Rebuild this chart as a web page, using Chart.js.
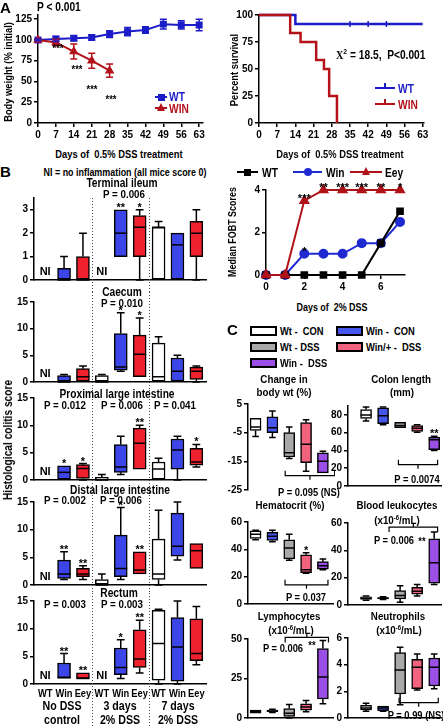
<!DOCTYPE html>
<html>
<head>
<meta charset="utf-8">
<title>Win / Eey DSS colitis</title>
<script src="https://cdn.jsdelivr.net/npm/chart.js@4.4.1/dist/chart.umd.min.js"></script>
<style>
  html, body { margin: 0; padding: 0; background: #fff; }
  body { position: relative; width: 443px; height: 726px; overflow: hidden;
         font-family: "Liberation Sans", Arial, sans-serif; font-weight: bold; color: #000; }
  canvas { position: absolute; }
  .t { position: absolute; white-space: nowrap; line-height: 1; }
  .mk { position: absolute; }
</style>
</head>
<body>
<script>
// ---------- Panel A: body weight (mean +/- SEM) ----------
const weightDays = [0, 7, 14, 21, 28, 35, 42, 49, 56, 63];
const wtWeight = [100, 101, 102, 103, 107, 110, 112, 119, 118, 118];
const wtWeightErr = [1, 3, 3, 3, 4, 5, 4, 6, 5, 7];
const winWeightDays = [0, 7, 14, 21, 28];
const winWeight = [100, 97, 86, 75, 63];
const winWeightErr = [1, 4, 9, 9, 8];
const dayTicks = [0, 7, 14, 21, 28, 35, 42, 49, 56, 63];
const weightTicks = [0, 25, 50, 75, 100, 125];

// ---------- Panel A: survival ----------
const wtSurvDays = [0, 14, 63];
const wtSurv = [100, 91.7, 91.7];
const wtCensorDays = [35, 42, 49];
const winSurvDays = [0, 12, 16, 22, 25, 27, 30];
const winSurv = [100, 83.3, 75, 58.3, 50, 25, 0];
const survivalTicks = [0, 25, 50, 75, 100];

// ---------- Panel B: FOBT medians ----------
const fobtDays = [0, 1, 2, 3, 4, 5, 6, 7];
const fobtWt = [0, 0, 0, 0, 0, 0, 1.5, 3];
const fobtWin = [0, 0, 1, 1, 1, 1.5, 1.5, 2.5];
const fobtEey = [0, 0, 3.5, 4, 4, 4, 4, 4];
const fobtWinStars = ['', '', '*', '', '', '', '', ''];
const fobtEeyStars = ['', '', '***', '**', '***', '***', '**', '*'];
const fobtXTicks = [0, 2, 4, 6];
const fobtYTicks = [0, 2, 4];

// ---------- Panel B: histology, [min, q1, median, q3, max], null = NI ----------
const bLabels = ['WT', 'Win', 'Eey', 'WT', 'Win', 'Eey', 'WT', 'Win', 'Eey'];
const ileumBoxes = [null, [0, 0, 0, 0.5, 1], [0, 0, 0, 1, 2], null, [1, 1, 2, 3, 3],
  [0, 1, 2.25, 2.75, 3], [0, 0, 2.25, 2.25, 2.5], [0, 0, 1.5, 2, 2], [0, 1, 2, 2.5, 3]];
const ileumStars = ['', '', '', '', '**', '*', '', '', ''];
const caecumBoxes = [null, [0, 0, 0, 1.2, 1.4], [0, 0, 1, 2.5, 3], [0, 0, 0, 1.2, 1.4],
  [2, 2.2, 2.8, 9.1, 13], [1, 1, 5.2, 8.8, 12], [0, 0, 1, 7.3, 8.5], [0, 0, 2, 4.5, 5], [0, 0.5, 2, 2.8, 3]];
const caecumStars = ['', '', '', '', '*', '*', '', '', ''];
const proximalBoxes = [null, [0, 0, 1.4, 2.6, 2.6], [0, 0.3, 2.1, 2.8, 3], [0, 0, 0, 0.5, 1],
  [1, 1.4, 2.4, 6.5, 8], [2, 2, 6.7, 9.5, 10], [0, 0, 2, 3.3, 4], [0, 2, 5.5, 7.5, 8], [2.4, 2.7, 3.3, 5.8, 6.5]];
const proximalStars = ['', '*', '*', '', '', '**', '', '', '*'];
const distalBoxes = [null, [1, 1.2, 2, 4.5, 6], [1, 1.5, 2, 3, 3.5], [0, 0, 0, 1, 2],
  [1, 1.5, 3, 9, 14], [2, 2, 2.7, 6, 6], [0, 1, 2, 8.3, 13.5], [4.5, 5.2, 7, 13, 15], [3, 3, 6.2, 7.5, 7.5]];
const distalStars = ['', '**', '**', '', '*', '**', '', '', ''];
const rectumBoxes = [null, [1, 1, 1.2, 3.8, 5.5], [1, 1, 1, 2, 2], null,
  [1, 1.7, 3, 6.5, 8], [2, 3, 4.5, 9.8, 11.5], [0, 0.7, 7.3, 13.3, 13.5], [0, 0.5, 6.7, 12, 15], [3.5, 4.2, 5.5, 11.8, 14]];
const rectumStars = ['', '**', '**', '', '*', '**', '', '', ''];
const ileumTicks = [0, 1, 2, 3];
const colitisTicks = [0, 5, 10, 15];

// ---------- Panel C: [min, q1, median, q3, max] ----------
const cGroups = ['Wt - CON', 'Win - CON', 'Wt - DSS', 'Win/+ - DSS', 'Win - DSS'];
const bodyWtBoxes = [[-6.3, -4.2, -3, 0, 0], [-6.7, -5, -3.3, 0.5, 2.6], [-14, -13.5, -12, -5, -3],
  [-18.5, -15.5, -9, -1.5, -0.5], [-19, -19, -15, -12, -11.5]];
const colonBoxes = [[73, 76, 80, 86, 89], [69, 70, 79, 88, 89], [65, 65.5, 68, 71.5, 72],
  [60.5, 61.5, 65, 68, 69], [40, 41, 52, 55, 56]];
const hematocritBoxes = [[47, 48, 51, 53.5, 54], [45.5, 46.5, 49.5, 52.5, 54], [32, 33, 41, 47, 51],
  [22.5, 23, 25, 36, 37.5], [25, 25.5, 28, 31, 33]];
const leukocyteBoxes = [[3.5, 4, 5, 6, 6.5], [4, 4.5, 5, 5.5, 6], [2, 4.5, 7, 10.5, 14],
  [6.5, 8, 10, 13, 15], [15, 16, 31, 48.5, 53.5]];
const lymphocyteBoxes = [[3, 3, 4, 5, 5], [3.5, 4, 4.5, 5, 5.5], [0, 1, 3, 6, 8.5],
  [4, 5, 7, 9, 11], [9, 12, 26, 44, 49]];
const neutrophilBoxes = [[0.5, 0.6, 0.75, 0.95, 1.1], [0.5, 0.55, 0.75, 0.9, 0.9], [1, 1.8, 3.6, 4.9, 5.3],
  [2.1, 2.2, 3.8, 4.4, 4.8], [2.2, 2.4, 3.8, 4.5, 4.8]];
const colonStars = ['', '', '', '', '**'];
const hematocritStars = ['', '', '', '*', ''];
const bodyWtTicks = [-25, -15, -5, 5];
const colonTicks = [0, 20, 40, 60, 80];
const hematocritTicks = [0, 20, 40, 60];
const leukocyteTicks = [0, 20, 40, 60];
const lymphocyteTicks = [0, 25, 50];
const neutrophilTicks = [0, 2, 4, 6];

// ---------- colours ----------
const BLUE_A = '#1c1cc8', RED_A = '#b3121b';
const BLUE_F = '#1f2ad0', RED_F = '#b01218';
const bColors = ['#ffffff', '#3c46e8', '#f0212e', '#ffffff', '#3c46e8', '#f0212e', '#ffffff', '#3c46e8', '#f0212e'];
const cColors = ['#ffffff', '#4656ee', '#a9a9a9', '#f2637f', '#9c4fe6'];

const FONT = '"Liberation Sans", Arial, sans-serif';
Chart.defaults.font.family = FONT;
Chart.defaults.font.weight = 'bold';
Chart.defaults.font.size = 10;
Chart.defaults.color = '#000';
Chart.defaults.animation = false;
Chart.defaults.responsive = false;
Chart.defaults.plugins.legend.display = false;
Chart.defaults.plugins.tooltip.enabled = false;

// ---------- helpers ----------
const SQUEEZE = 0.85;
function label(html, x, y, size, align, style) {
  const d = document.createElement('div');
  d.className = 't';
  d.innerHTML = html;
  d.style.left = x + 'px';
  d.style.top = y + 'px';
  d.style.fontSize = size + 'px';
  if (align === 'left') {
    d.style.transformOrigin = '0 50%';
    d.style.transform = 'translate(0, -50%) scaleX(' + SQUEEZE + ')';
  } else if (align === 'rot') {
    d.style.transform = 'translate(-50%, -50%) rotate(-90deg) scaleX(' + SQUEEZE + ')';
  } else {
    d.style.transform = 'translate(-50%, -50%) scaleX(' + SQUEEZE + ')';
  }
  if (style) Object.assign(d.style, style);
  document.body.appendChild(d);
}

function addDiv(style) {
  const d = document.createElement('div');
  d.className = 'mk';
  Object.assign(d.style, style);
  document.body.appendChild(d);
}

function legendLine(x1, x2, y, color, marker) {
  addDiv({ left: x1 + 'px', top: (y - 1) + 'px', width: (x2 - x1) + 'px', height: '2px', background: color });
  const cx = (x1 + x2) / 2;
  if (marker === 'rect') addDiv({ left: (cx - 3.5) + 'px', top: (y - 3.5) + 'px', width: '7px', height: '7px', background: color });
  if (marker === 'circle') addDiv({ left: (cx - 4) + 'px', top: (y - 4) + 'px', width: '8px', height: '8px', borderRadius: '50%', background: color });
  if (marker === 'triangle') addDiv({ left: (cx - 4) + 'px', top: (y - 5) + 'px', width: 0, height: 0,
    borderLeft: '4px solid transparent', borderRight: '4px solid transparent', borderBottom: '8px solid ' + color });
  if (marker === 'tick') addDiv({ left: (cx - 0.75) + 'px', top: (y - 5) + 'px', width: '1.5px', height: '5px', background: color });
}

function legendBox(x, y, fill, text) {
  addDiv({ left: x + 'px', top: (y - 5) + 'px', width: '23px', height: '6px', border: '2px solid #000', background: fill });
  label(text, x + 30, y, 11, 'left');
}

function place(cv) {
  const c = document.createElement('canvas');
  c.width = cv.w;
  c.height = cv.h;
  c.style.left = cv.left + 'px';
  c.style.top = cv.top + 'px';
  document.body.appendChild(c);
  return c;
}

function layoutFor(cv, area, xh) {
  return { padding: { left: 0, top: area.t - cv.top, right: cv.left + cv.w - area.r, bottom: cv.top + cv.h - area.b - xh } };
}

function yAxis(cv, area, ticks, min, max, grid) {
  return {
    min: min, max: max,
    afterFit: s => { s.width = area.l - cv.left; },
    afterBuildTicks: s => { s.ticks = ticks.map(v => ({ value: v })); },
    ticks: { autoSkip: false, padding: 2 },
    grid: grid || { drawOnChartArea: false, color: '#000', lineWidth: 1.5, tickLength: 4 },
    border: { color: '#000', width: 1.5 }
  };
}

function xAxis(ticks, min, max, xh) {
  return {
    type: 'linear', offset: false, min: min, max: max,
    afterFit: s => { s.height = xh; },
    afterBuildTicks: s => { s.ticks = ticks.map(v => ({ value: v })); },
    ticks: { autoSkip: false, maxRotation: 0, padding: 2 },
    grid: { drawOnChartArea: false, color: '#000', lineWidth: 1.5, tickLength: 4 },
    border: { color: '#000', width: 1.5 }
  };
}

function pts(xs, ys) {
  return xs.map((x, i) => ({ x: x, y: ys[i] }));
}

// error bars from dataset.err
const errorBarPlugin = {
  id: 'errorBars',
  afterDatasetsDraw(chart) {
    const ctx = chart.ctx, y = chart.scales.y;
    chart.data.datasets.forEach((ds, di) => {
      if (!ds.err) return;
      const meta = chart.getDatasetMeta(di);
      ctx.save();
      ctx.strokeStyle = ds.borderColor;
      ctx.lineWidth = 1.5;
      meta.data.forEach((pt, i) => {
        const v = ds.data[i].y, e = ds.err[i];
        const top = y.getPixelForValue(v + e), bot = y.getPixelForValue(v - e);
        ctx.beginPath();
        ctx.moveTo(pt.x, top); ctx.lineTo(pt.x, bot);
        ctx.moveTo(pt.x - 3.5, top); ctx.lineTo(pt.x + 3.5, top);
        ctx.moveTo(pt.x - 3.5, bot); ctx.lineTo(pt.x + 3.5, bot);
        ctx.stroke();
      });
      ctx.restore();
    });
  }
};

// significance stars above line points from dataset.stars
const pointStarPlugin = {
  id: 'pointStars',
  afterDatasetsDraw(chart) {
    const ctx = chart.ctx;
    chart.data.datasets.forEach((ds, di) => {
      if (!ds.stars) return;
      const meta = chart.getDatasetMeta(di);
      ctx.save();
      ctx.fillStyle = '#000';
      ctx.font = 'bold 11px ' + FONT;
      ctx.textAlign = 'center';
      ctx.textBaseline = 'alphabetic';
      meta.data.forEach((pt, i) => { if (ds.stars[i]) ctx.fillText(ds.stars[i], pt.x, pt.y + 1); });
      ctx.restore();
    });
  }
};

// whiskers, medians, stars, NI, group labels, separators, brackets for floating-bar boxes
const boxPlugin = {
  id: 'boxes',
  afterDatasetsDraw(chart) {
    const o = chart.data.datasets[0].box;
    const ctx = chart.ctx, x = chart.scales.x, y = chart.scales.y;
    const half = o.bar / 2, cap = o.bar * 0.3;
    ctx.save();
    ctx.strokeStyle = '#000';
    ctx.fillStyle = '#000';
    ctx.lineWidth = 1.5;
    o.stats.forEach((s, i) => {
      const cx = x.getPixelForValue(i);
      if (o.xLabels) {
        // condensed category labels under the axis
        ctx.save();
        ctx.font = 'bold 11px ' + FONT;
        ctx.textAlign = 'center';
        ctx.textBaseline = 'top';
        ctx.translate(cx, chart.chartArea.bottom + 4);
        ctx.scale(SQUEEZE, 1);
        ctx.fillText(o.xLabels[i], 0, 0);
        ctx.restore();
      }
      if (!s) {
        ctx.font = 'bold 11px ' + FONT;
        ctx.textAlign = 'center';
        ctx.textBaseline = 'middle';
        ctx.fillText('NI', cx, y.getPixelForValue(0) - 8);
        return;
      }
      const p = s.map(v => y.getPixelForValue(v));
      ctx.beginPath();
      if (p[4] < p[3] - 0.5) { ctx.moveTo(cx, p[3]); ctx.lineTo(cx, p[4]); ctx.moveTo(cx - cap, p[4]); ctx.lineTo(cx + cap, p[4]); }
      if (p[0] > p[1] + 0.5) { ctx.moveTo(cx, p[1]); ctx.lineTo(cx, p[0]); ctx.moveTo(cx - cap, p[0]); ctx.lineTo(cx + cap, p[0]); }
      ctx.moveTo(cx - half, p[2]); ctx.lineTo(cx + half, p[2]);
      ctx.stroke();
      if (o.stars && o.stars[i]) {
        ctx.font = 'bold 11px ' + FONT;
        ctx.textAlign = 'center';
        ctx.textBaseline = 'alphabetic';
        ctx.fillText(o.stars[i], cx, p[4] + 1);
      }
    });
    if (o.bracket) {
      const b = o.bracket, dir = b.up ? -1 : 1;
      const x1 = x.getPixelForValue(b.from), x2 = x.getPixelForValue(b.to), yy = y.getPixelForValue(b.at);
      const xm = (x1 + x2) / 2;
      ctx.lineWidth = 1.2;
      ctx.beginPath();
      ctx.moveTo(x1, yy + dir * 5); ctx.lineTo(x1, yy); ctx.lineTo(x2, yy); ctx.lineTo(x2, yy + dir * 5);
      ctx.moveTo(xm, yy); ctx.lineTo(xm, yy - dir * 4);
      ctx.stroke();
    }
    if (o.separators) {
      ctx.setLineDash([1, 2]);
      ctx.lineWidth = 1;
      ctx.strokeStyle = '#444';
      o.separators.forEach(v => {
        const px = Math.round(x.getPixelForValue(v)) + 0.5;
        ctx.beginPath();
        ctx.moveTo(px, o.sepFromArea ? chart.chartArea.top : 0);
        ctx.lineTo(px, chart.height);
        ctx.stroke();
      });
    }
    ctx.restore();
  }
};

function boxChart(cv, area, stats, colors, o) {
  return new Chart(place(cv), {
    type: 'bar',
    data: {
      datasets: [{
        data: stats.map((s, i) => ({ x: i, y: s ? [s[1], s[3]] : null })),
        backgroundColor: colors,
        borderColor: '#000',
        borderWidth: 1.5,
        borderSkipped: false,
        barThickness: o.bar,
        box: { stats: stats, stars: o.stars, bar: o.bar, bracket: o.bracket, xLabels: o.xLabels,
               separators: o.separators, sepFromArea: o.sepFromArea }
      }]
    },
    options: {
      layout: layoutFor(cv, area, 0),
      scales: {
        x: {
          type: 'linear', offset: false, min: o.xMin, max: o.xMax,
          afterFit: s => { s.height = 0; },
          ticks: { display: false },
          grid: { display: false },
          border: { display: o.xBorder !== false, color: '#000', width: 1.5 }
        },
        y: yAxis(cv, area, o.yTicks, o.yMin, o.yMax, o.yGrid)
      }
    },
    plugins: [boxPlugin]
  });
}

// ================= Panel A: body weight =================
const cvA = { left: 0, top: 0, w: 215, h: 146 };
const arA = { l: 38, t: 15, r: 203, b: 123 };
new Chart(place(cvA), {
  type: 'line',
  data: {
    datasets: [
      { data: pts(winWeightDays, winWeight), err: winWeightErr, borderColor: RED_A, backgroundColor: RED_A,
        borderWidth: 2, pointStyle: 'triangle', pointRadius: 3.5, clip: false },
      { data: pts(weightDays, wtWeight), err: wtWeightErr, borderColor: BLUE_A, backgroundColor: BLUE_A,
        borderWidth: 2, pointStyle: 'rect', pointRadius: 3.5, clip: false }
    ]
  },
  options: {
    layout: layoutFor(cvA, arA, 18),
    scales: { x: xAxis(dayTicks, 0, 64.5, 18), y: yAxis(cvA, arA, weightTicks, 0, 130) }
  },
  plugins: [errorBarPlugin]
});
label('A', 0, 7, 15, 'left', { transform: 'translate(0,-50%)' });
label('P &lt; 0.001', 37, 7, 12, 'left');
label('Body weight (% initial)', 8, 72, 11, 'rot');
label('Days of&nbsp; 0.5% DSS treatment', 119, 154, 11);
label('***', 58, 48, 11);
label('***', 77, 69, 11);
label('***', 92, 89, 11);
label('***', 111, 99, 11);
legendLine(155, 167, 97, BLUE_A, 'rect');
label('WT', 169, 97, 12, 'left', { color: BLUE_A });
legendLine(155, 167, 108, RED_A, 'triangle');
label('WIN', 169, 109, 12, 'left', { color: RED_A });

// ================= Panel A: survival =================
const cvS = { left: 228, top: 0, w: 215, h: 146 };
const arS = { l: 259, t: 15, r: 424, b: 123 };
new Chart(place(cvS), {
  type: 'line',
  data: {
    datasets: [
      { data: pts(winSurvDays, winSurv), stepped: 'before', borderColor: RED_A, borderWidth: 2.5, pointRadius: 0, clip: false },
      { data: pts(wtSurvDays, wtSurv), stepped: 'before', borderColor: BLUE_A, borderWidth: 2.5, pointRadius: 0, clip: false },
      { data: wtCensorDays.map(d => ({ x: d, y: wtSurv[wtSurv.length - 1] })), showLine: false, pointStyle: 'line',
        rotation: 90, pointRadius: 3, borderColor: BLUE_A, pointBorderWidth: 1.5, clip: false }
    ]
  },
  options: {
    layout: layoutFor(cvS, arS, 18),
    scales: { x: xAxis(dayTicks, 0, 63.5, 18), y: yAxis(cvS, arS, survivalTicks, 0, 100) }
  }
});
label('Percent survival', 234, 70, 11, 'rot');
label('<span style="font-family:\'Liberation Serif\',serif">X</span><span style="font-size:8px;vertical-align:5px">2</span> = 18.5,&nbsp; P&lt;0.001', 336, 54, 12, 'left');
legendLine(375, 395, 88, BLUE_A, 'tick');
label('WT', 398, 89, 12, 'left', { color: BLUE_A });
legendLine(375, 395, 104, RED_A, 'tick');
label('WIN', 398, 105, 12, 'left', { color: RED_A });
label('Days of&nbsp; 0.5% DSS treatment', 340, 154, 11);

// ================= Panel B: FOBT =================
const cvF = { left: 240, top: 182, w: 203, h: 116 };
const arF = { l: 266, t: 190, r: 405, b: 275 };
new Chart(place(cvF), {
  type: 'line',
  data: {
    datasets: [
      { data: pts(fobtDays, fobtEey), stars: fobtEeyStars, borderColor: RED_F, backgroundColor: RED_F, borderWidth: 2,
        pointStyle: 'triangle', pointRadius: 4.5, clip: false },
      { data: pts(fobtDays, fobtWt), borderColor: '#000', backgroundColor: '#000', borderWidth: 2,
        pointStyle: 'rect', pointRadius: 4, clip: false },
      { data: pts(fobtDays, fobtWin), stars: fobtWinStars, borderColor: BLUE_F, backgroundColor: BLUE_F, borderWidth: 2,
        pointStyle: 'circle', pointRadius: 4, clip: false }
    ]
  },
  options: {
    layout: layoutFor(cvF, arF, 18),
    scales: { x: xAxis(fobtXTicks, 0, 7.26, 18), y: yAxis(cvF, arF, fobtYTicks, 0, 4) }
  },
  plugins: [pointStarPlugin]
});
label('Median FOBT Scores', 232, 232, 10.5, 'rot');
label('Days of&nbsp; 2% DSS', 332, 307, 10.5);
legendLine(237, 258, 172, '#000', 'rect');
label('WT', 262, 173, 12, 'left');
legendLine(293, 322, 172, BLUE_F, 'circle');
label('Win', 326, 173, 12, 'left');
legendLine(350, 382, 172, RED_F, 'triangle');
label('Eey', 385, 173, 12, 'left');

// ================= Panel B: histology boxes =================
const bBase = { bar: 13, xMin: -0.59, xMax: 8.51, separators: [2.5, 5.5] };
boxChart({ left: 0, top: 188, w: 215, h: 104 }, { l: 34, t: 198, r: 206, b: 280 }, ileumBoxes, bColors,
  Object.assign({}, bBase, { stars: ileumStars, yTicks: ileumTicks, yMin: 0, yMax: 3.5, sepFromArea: true }));
boxChart({ left: 0, top: 292, w: 215, h: 98 }, { l: 34, t: 302, r: 206, b: 385 }, caecumBoxes, bColors,
  Object.assign({}, bBase, { stars: caecumStars, yTicks: colitisTicks, yMin: 0, yMax: 15 }));
boxChart({ left: 0, top: 390, w: 215, h: 102 }, { l: 34, t: 398, r: 206, b: 480 }, proximalBoxes, bColors,
  Object.assign({}, bBase, { stars: proximalStars, yTicks: colitisTicks, yMin: 0, yMax: 15 }));
boxChart({ left: 0, top: 492, w: 215, h: 101 }, { l: 34, t: 502, r: 206, b: 585 }, distalBoxes, bColors,
  Object.assign({}, bBase, { stars: distalStars, yTicks: colitisTicks, yMin: 0, yMax: 15 }));
boxChart({ left: 0, top: 593, w: 215, h: 133 }, { l: 34, t: 601, r: 206, b: 684 }, rectumBoxes, bColors,
  Object.assign({}, bBase, { stars: rectumStars, yTicks: colitisTicks, yMin: 0, yMax: 15, xLabels: bLabels }));

label('B', 0, 171, 15, 'left', { transform: 'translate(0,-50%)' });
label('NI = no inflammation (all mice score 0)', 125, 172, 10.5);
label('Terminal ileum', 122, 183, 12);
label('P = 0.006', 124, 195, 11.5);
label('Caecum', 122, 292, 12);
label('P = 0.010', 122, 304, 11.5);
label('Proximal large intestine', 117, 394, 12);
label('P = 0.012', 65, 406, 11.5);
label('P = 0.006', 122, 406, 11.5);
label('P = 0.041', 175, 406, 11.5);
label('Distal large intestine', 120, 490, 12);
label('P = 0.002', 65, 501, 11.5);
label('P = 0.006', 121, 501, 11.5);
label('Rectum', 119, 593, 12);
label('P = 0.003', 65, 605, 11.5);
label('P = 0.003', 122, 605, 11.5);
label('Histological colitis score', 8, 440, 12, 'rot');
label('No DSS', 62, 706, 12.5);
label('control', 62, 720, 12.5);
label('3 days', 120, 706, 12.5);
label('2% DSS', 120, 720, 12.5);
label('7 days', 178, 706, 12.5);
label('2% DSS', 178, 720, 12.5);

// ================= Panel C =================
label('C', 227, 329, 15, 'left', { transform: 'translate(0,-50%)' });
legendBox(250, 331, cColors[0], 'Wt -&nbsp; CON');
legendBox(336, 331, cColors[1], 'Win -&nbsp; CON');
legendBox(250, 347, cColors[2], 'Wt - DSS');
legendBox(336, 347, cColors[3], 'Win/+ -&nbsp; DSS');
legendBox(250, 363, cColors[4], 'Win -&nbsp; DSS');

const cLeft = { bar: 11, xMin: -0.45, xMax: 4.6 };
const cRight = { bar: 11, xMin: -1.06, xMax: 4.4 };
boxChart({ left: 225, top: 396, w: 110, h: 102 }, { l: 248, t: 404, r: 333, b: 491 }, bodyWtBoxes, cColors,
  Object.assign({}, cLeft, { yTicks: bodyWtTicks, yMin: -25, yMax: 5, xBorder: false,
    bracket: { from: 1.76, to: 4.7, at: -20, up: true },
    yGrid: { drawOnChartArea: true, color: c => (c.tick && c.tick.value === 0 ? '#000' : 'rgba(0,0,0,0)'),
             tickColor: '#000', lineWidth: 1.5, tickLength: 4 } }));
boxChart({ left: 328, top: 398, w: 115, h: 96 }, { l: 348, t: 406, r: 441, b: 487 }, colonBoxes, cColors,
  Object.assign({}, cRight, { stars: colonStars, yTicks: colonTicks, yMin: 0, yMax: 90,
    bracket: { from: 1.9, to: 4.2, at: 24, up: true } }));
boxChart({ left: 225, top: 514, w: 110, h: 98 }, { l: 248, t: 522, r: 333, b: 605 }, hematocritBoxes, cColors,
  Object.assign({}, cLeft, { stars: hematocritStars, yTicks: hematocritTicks, yMin: 0, yMax: 60,
    bracket: { from: 1.75, to: 4.3, at: 14, up: true } }));
boxChart({ left: 328, top: 515, w: 115, h: 98 }, { l: 348, t: 523, r: 441, b: 606 }, leukocyteBoxes, cColors,
  Object.assign({}, cRight, { yTicks: leukocyteTicks, yMin: 0, yMax: 60,
    bracket: { from: 1.35, to: 4.2, at: 57, up: false } }));
boxChart({ left: 225, top: 631, w: 110, h: 95 }, { l: 248, t: 639, r: 333, b: 722 }, lymphocyteBoxes, cColors,
  Object.assign({}, cLeft, { yTicks: lymphocyteTicks, yMin: 0, yMax: 50,
    bracket: { from: 1.76, to: 4.33, at: 51, up: false } }));
boxChart({ left: 328, top: 630, w: 115, h: 96 }, { l: 348, t: 638, r: 441, b: 722 }, neutrophilBoxes, cColors,
  Object.assign({}, cRight, { yTicks: neutrophilTicks, yMin: 0, yMax: 6,
    bracket: { from: 1.94, to: 4.24, at: 1.15, up: true } }));

const SUP = '<span style="font-size:7px;vertical-align:4px">-6</span>';
label('Change in', 284, 380, 11.5);
label('body wt (%)', 284, 393, 11.5);
label('Colon length', 401, 380, 11.5);
label('(mm)', 402, 393, 11.5);
label('P = 0.095 (NS)', 309, 492, 11);
label('P = 0.0074', 417, 479, 11);
label('Hematocrit (%)', 290, 506, 11.5);
label('Blood leukocytes', 397, 506, 11.5);
label('(x10' + SUP + '/mL)', 397, 520, 11.5);
label('P = 0.037', 306, 597, 11);
label('P = 0.006', 394, 540, 11);
label('**', 422, 541, 11);
label('Lymphocytes', 289, 617, 11.5);
label('(x10' + SUP + '/mL)', 291, 630, 11.5);
label('P = 0.006', 283, 648, 11);
label('**', 312, 645, 11);
label('Neutrophils', 398, 617, 11.5);
label('(x10' + SUP + '/mL)', 399, 630, 11.5);
label('P = 0.99 (NS)', 416, 715, 11);
</script>
</body>
</html>
